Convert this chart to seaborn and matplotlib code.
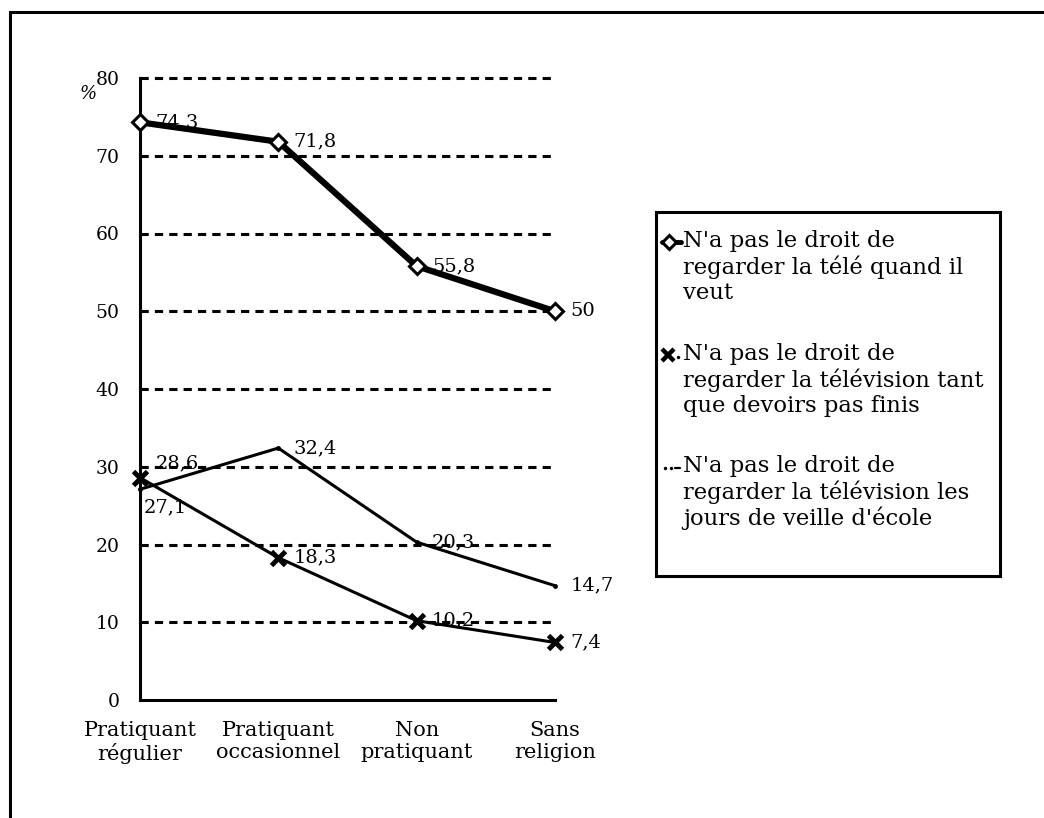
import matplotlib
matplotlib.use("Agg")
import matplotlib.pyplot as plt
from matplotlib.lines import Line2D
from matplotlib.patches import Rectangle
import seaborn as sns
import pandas as pd

categories = ["Pratiquant\nrégulier", "Pratiquant\noccasionnel", "Non\npratiquant", "Sans\nreligion"]
tele_quand_il_veut = [74.3, 71.8, 55.8, 50.0]
devoirs_pas_finis = [28.6, 18.3, 10.2, 7.4]
veille_ecole = [27.1, 32.4, 20.3, 14.7]
value_labels_1 = ["74,3", "71,8", "55,8", "50"]
value_labels_2 = ["28,6", "18,3", "10,2", "7,4"]
value_labels_3 = ["27,1", "32,4", "20,3", "14,7"]
legend_labels = [
    "N'a pas le droit de\nregarder la télé quand il\nveut",
    "N'a pas le droit de\nregarder la télévision tant\nque devoirs pas finis",
    "N'a pas le droit de\nregarder la télévision les\njours de veille d'école",
]
y_ticks = [0, 10, 20, 30, 40, 50, 60, 70, 80]

sns.set_theme(style="white")
plt.rcParams["font.family"] = ["DejaVu Serif"]
plt.rcParams["font.size"] = 13.5
plt.rcParams["text.color"] = "black"
plt.rcParams["xtick.color"] = "black"
plt.rcParams["ytick.color"] = "black"
plt.rcParams["axes.labelcolor"] = "black"

W, H = 1044, 818
fig = plt.figure(figsize=(W / 100, H / 100), dpi=100)
fig.patch.set_facecolor("white")
ax = fig.add_axes([140 / W, 1 - 700 / H, (555 - 140) / W, (700 - 78) / H])
ax.set_facecolor("white")


def fx(px):
    return px / W


def fy(py):
    return 1 - py / H


# outer frame (only top and left edges fall inside the canvas)
fig.add_artist(Rectangle((fx(10), -0.05), 1.2, fy(12) + 0.05,
                         transform=fig.transFigure, fill=False,
                         edgecolor="black", linewidth=2.2, zorder=0))

df = pd.DataFrame({
    "cat": list(range(len(categories))) * 3,
    "val": tele_quand_il_veut + devoirs_pas_finis + veille_ecole,
    "serie": ["a"] * 4 + ["b"] * 4 + ["c"] * 4,
})

# dashed horizontal gridlines
for t in y_ticks[1:]:
    ax.axhline(t, color="black", lw=2.2, ls=(0, (2.7, 2.0)), zorder=1, clip_on=False)

sns.lineplot(data=df[df.serie == "b"], x="cat", y="val", ax=ax, color="black",
             lw=2.2, marker="x", markersize=10, markeredgewidth=3.5,
             markeredgecolor="black", zorder=3, legend=False, clip_on=False)
sns.lineplot(data=df[df.serie == "c"], x="cat", y="val", ax=ax, color="black",
             lw=2.2, marker="o", markersize=3.5, markeredgewidth=0,
             markerfacecolor="black", zorder=3, legend=False, clip_on=False)
sns.lineplot(data=df[df.serie == "a"], x="cat", y="val", ax=ax, color="black",
             lw=4.5, marker="D", markersize=8, markeredgewidth=2.2,
             markerfacecolor="white", markeredgecolor="black", zorder=4,
             legend=False, clip_on=False)


# value labels
def label(i, v, txt, dx=11, dy=0):
    ax.annotate(txt, (i, v), xytext=(dx, dy), textcoords="offset points",
                ha="left", va="center", fontsize=14, zorder=5,
                annotation_clip=False)


for i, (v, t) in enumerate(zip(tele_quand_il_veut, value_labels_1)):
    label(i, v, t, dy=0)
for i, (v, t) in enumerate(zip(devoirs_pas_finis, value_labels_2)):
    if i == 0:
        label(i, v, t, dx=11, dy=10)
    else:
        label(i, v, t, dy=0)
for i, (v, t) in enumerate(zip(veille_ecole, value_labels_3)):
    if i == 0:
        label(i, v, t, dx=3, dy=-13)
    else:
        label(i, v, t, dy=0)

ax.set_xlim(0, 3)
ax.set_ylim(0, 80)
ax.set_xticks(range(len(categories)))
ax.set_xticklabels(categories, fontsize=15, linespacing=1.2)
ax.set_yticks(y_ticks)
ax.set_yticklabels([str(t) for t in y_ticks], fontsize=13.5)
ax.set_xlabel("")
ax.set_ylabel("")
for s in ["top", "right"]:
    ax.spines[s].set_visible(False)
for s in ["left", "bottom"]:
    ax.spines[s].set_linewidth(2.2)
    ax.spines[s].set_color("black")
    ax.spines[s].set_zorder(2)
ax.tick_params(axis="x", direction="inout", length=12, width=2, color="black", pad=9)
ax.tick_params(axis="y", direction="inout", length=9, width=2, color="black", pad=10)

ax.text(-0.145, 0.974, "%", transform=ax.transAxes, fontsize=13, style="italic",
        ha="left", va="center")

# legend box drawn in figure pixels
fig.add_artist(Rectangle((fx(656), fy(576)), fx(1000) - fx(656), fy(212) - fy(576),
                         transform=fig.transFigure, fill=False,
                         edgecolor="black", linewidth=2.2, zorder=5))
entry_y = [242, 355, 467]
for yy, txt in zip(entry_y, legend_labels):
    fig.text(fx(683), fy(yy - 12), txt, fontsize=16.3, linespacing=1.17,
             ha="left", va="top")

# legend keys
fig.add_artist(Line2D([fx(662), fx(681)], [fy(242), fy(242)], transform=fig.transFigure,
                      color="black", lw=3.5))
fig.add_artist(Line2D([fx(669)], [fy(242)], transform=fig.transFigure, color="black",
                      marker="D", markersize=7, markerfacecolor="white",
                      markeredgewidth=2.2, ls="none"))
fig.add_artist(Line2D([fx(668)], [fy(355)], transform=fig.transFigure, color="black",
                      marker="x", markersize=8, markeredgewidth=3.2, ls="none"))
fig.add_artist(Line2D([fx(678)], [fy(357)], transform=fig.transFigure, color="black",
                      marker="o", markersize=2.5, markeredgewidth=0, ls="none"))
fig.add_artist(Line2D([fx(665), fx(671)], [fy(468), fy(468)], transform=fig.transFigure,
                      color="black", marker="o", markersize=2.5, markeredgewidth=0,
                      ls="none"))
fig.add_artist(Line2D([fx(675), fx(680)], [fy(468), fy(468)], transform=fig.transFigure,
                      color="black", lw=1.6))

fig.savefig("out.png", dpi=100, facecolor="white")
